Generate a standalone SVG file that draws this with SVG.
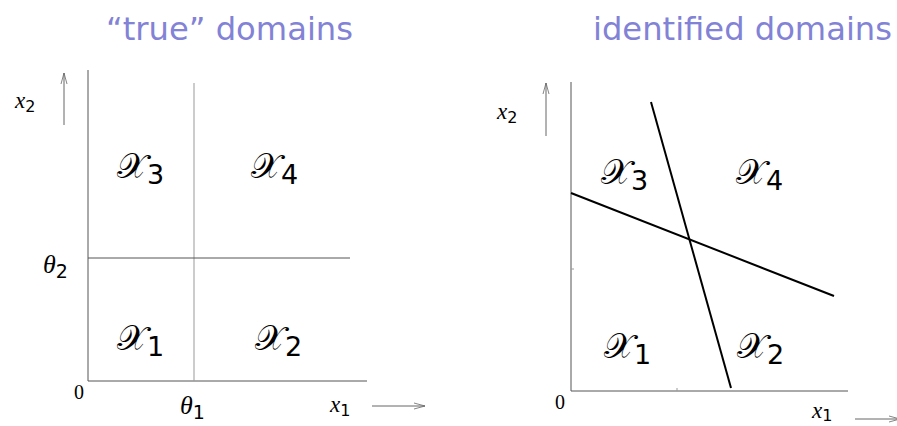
<svg xmlns="http://www.w3.org/2000/svg" width="897" height="426" viewBox="0 0 897 426">
<style>
.title{font-family:"DejaVu Sans",Verdana,sans-serif;font-size:32px;fill:#8282d6}
.ax{stroke:#555;stroke-width:1;fill:none}
.gl{stroke:#999;stroke-width:1;fill:none}
.dl{stroke:#000;stroke-width:2;fill:none}
.arr{stroke:#666;stroke-width:1;fill:none}
.var{font-family:"Liberation Serif",serif;font-style:italic;fill:#000}
.sub{font-family:"DejaVu Sans",sans-serif;font-style:normal}
.cal{font-family:"DejaVu Serif","DejaVu Sans",serif;font-size:35px;fill:#000}
.csub{font-family:"DejaVu Sans",sans-serif;font-size:27px}
.zero{font-family:"Liberation Serif",serif;font-size:20px;fill:#000}
</style>
<defs>
<marker id="ah" markerWidth="12" markerHeight="8" refX="11" refY="4" orient="auto" markerUnits="userSpaceOnUse">
<path d="M0,1 L11,4 L0,7" fill="none" stroke="#666" stroke-width="0.8"/>
</marker>
</defs>
<text class="title" x="106" y="40" textLength="247" lengthAdjust="spacingAndGlyphs">“true” domains</text>
<text class="title" x="593" y="40" textLength="299" lengthAdjust="spacingAndGlyphs">identified domains</text>

<g id="left-panel">
<g id="left-axes">
<path class="ax" d="M88,70 V381 H367"/>
<path class="gl" d="M194,83 V381"/>
<path class="ax" d="M88,258 H350"/>
<path class="arr" d="M64,125 V73" marker-end="url(#ah)"/>
<path class="arr" d="M372,406 H425" marker-end="url(#ah)"/>
</g>
<text class="var" x="15" y="108" font-size="23">x<tspan class="sub" font-size="16" dy="4">2</tspan></text>
<text class="var" x="43" y="273" font-size="26">θ<tspan class="sub" font-size="19" dy="5">2</tspan></text>
<text class="zero" x="74" y="399">0</text>
<text class="var" x="180" y="414" font-size="26">θ<tspan class="sub" font-size="19" dy="5">1</tspan></text>
<text class="var" x="330" y="412" font-size="23">x<tspan class="sub" font-size="16" dy="4">1</tspan></text>
<g id="L-X3"><text class="cal" x="117" y="178">𝒳<tspan class="csub" dy="6">3</tspan></text></g>
<g id="L-X4"><text class="cal" x="251" y="178">𝒳<tspan class="csub" dy="6">4</tspan></text></g>
<g id="L-X1"><text class="cal" x="117" y="350">𝒳<tspan class="csub" dy="6">1</tspan></text></g>
<g id="L-X2"><text class="cal" x="255" y="350">𝒳<tspan class="csub" dy="6">2</tspan></text></g>
</g>

<g id="right-panel">
<g id="right-axes">
<path class="ax" d="M571,82 V391 H848"/>
<path class="gl" d="M677,388 V391 M571,269 H574"/>
<path class="arr" d="M546,136 V83" marker-end="url(#ah)"/>
<path class="arr" d="M855,419 H900" marker-end="url(#ah)"/>
</g>
<g id="connectors">
<path class="dl" d="M651,102 L731,388"/>
<path class="dl" d="M571,193 L834,296"/>
</g>
<text class="var" x="497" y="119" font-size="23">x<tspan class="sub" font-size="16" dy="4">2</tspan></text>
<text class="zero" x="555" y="409">0</text>
<text class="var" x="812" y="418" font-size="23">x<tspan class="sub" font-size="16" dy="3">1</tspan></text>
<g id="R-X3"><text class="cal" x="601" y="184">𝒳<tspan class="csub" dy="6">3</tspan></text></g>
<g id="R-X4"><text class="cal" x="736" y="184">𝒳<tspan class="csub" dy="6">4</tspan></text></g>
<g id="R-X1"><text class="cal" x="604" y="358">𝒳<tspan class="csub" dy="6">1</tspan></text></g>
<g id="R-X2"><text class="cal" x="737" y="358">𝒳<tspan class="csub" dy="6">2</tspan></text></g>
</g>
</svg>
